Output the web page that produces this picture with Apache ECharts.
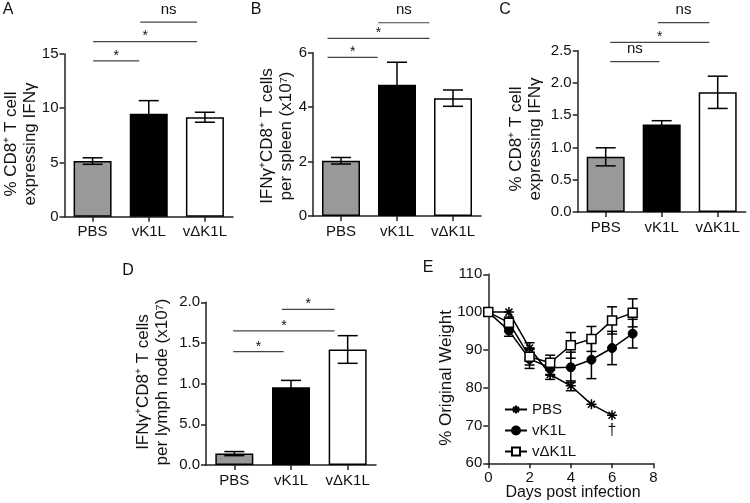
<!DOCTYPE html>
<html><head><meta charset="utf-8">
<script src="https://cdn.jsdelivr.net/npm/echarts@6/dist/echarts.min.js"></script>
<style>html,body{margin:0;padding:0;background:#fff}#c{width:750px;height:503px}</style>
</head><body><div id="c"></div>
<script>
// ---- data ----
const categories = ['PBS', 'vK1L', 'vΔK1L'];
const aMean = [5.13, 9.5, 9.17];
const aErr = [0.3, 1.2, 0.46];
const bMean = [2.03, 4.82, 4.33];
const bErr = [0.12, 0.83, 0.3];
const cMean = [0.855, 1.355, 1.855];
const cErr = [0.14, 0.06, 0.25];
const dMean = [0.14, 0.955, 1.42];
const dErr = [0.025, 0.085, 0.17];
const dTickLabels = ['0.0', '5.0', '1.0', '1.5', '2.0'];
// significance brackets: [start, end (category units from PBS centre), y, label]
const sigA = [[0.01, 0.83, 14.36, '*'], [0.01, 1.86, 16.14, '*'], [0.85, 1.86, 17.93, 'ns']];
const sigB = [[-0.24, 0.655, 5.83, '*'], [-0.24, 1.58, 6.53, '*'], [0.665, 1.58, 7.10, 'ns']];
const sigC = [[0.08, 0.96, 2.33, 'ns'], [0.08, 1.85, 2.63, '*'], [0.93, 1.85, 2.935, 'ns']];
const sigD = [[-0.02, 0.87, 1.393, '*'], [-0.02, 1.77, 1.648, '*'], [0.84, 1.77, 1.914, '*']];
// weight curves
const days = [0, 1, 2, 3, 4, 5, 6, 7];
const pbsW = [100, 100, 90.5, 83.5, 80.5, 75.6, 72.7];
const pbsE = [0, 0, 1.4, 1.3, 1.3, 0, 0];
const vk1lW = [100, 95.1, 87.6, 85.3, 85.4, 87.4, 90.5, 94.3];
const vk1lE = [0, 1.5, 2.5, 2, 4, 5, 4.4, 3.8];
const vdk1lW = [100, 97.2, 88.2, 86.6, 91.2, 92.9, 97.8, 99.8];
const vdk1lE = [0, 1.5, 2.2, 2, 3.4, 3.3, 3.6, 3.7];

// ---- styles ----
const FONT = '"Liberation Sans", Arial, sans-serif';
const TXT = '#111';
const barColors = ['#999999', '#000000', '#ffffff'];
const grids = [
  {left: 64.5, top: 54, width: 168.5, height: 162.7},
  {left: 313, top: 52.7, width: 168, height: 163.3},
  {left: 577.7, top: 50.7, width: 168, height: 161.3},
  {left: 206, top: 302.3, width: 170, height: 162.7},
  {left: 488.3, top: 274.3, width: 165, height: 189}
];
const axisLine = {show: true, lineStyle: {color: '#222', width: 1.5}};
const axisTick = {show: true, length: 5, lineStyle: {color: '#222', width: 1.5}};
const axisLabel = {color: TXT, fontSize: 15, fontFamily: FONT};
function catX(i) {
  return {type: 'category', gridIndex: i, data: categories, axisLine,
    axisTick: Object.assign({alignWithLabel: true, interval: 0}, axisTick),
    axisLabel: Object.assign({margin: 8, interval: 0, hideOverlap: false}, axisLabel), splitLine: {show: false}};
}
function valY(i, max, interval, fmt) {
  return {type: 'value', gridIndex: i, min: 0, max, interval, axisLine, axisTick,
    axisLabel: Object.assign({margin: 6, formatter: fmt, hideOverlap: false}, axisLabel), splitLine: {show: false}};
}
function barSeries(i, mean) {
  return {type: 'bar', xAxisIndex: i, yAxisIndex: i, barWidth: 38, z: 2,
    data: mean.map((v, k) => ({value: v, itemStyle: {color: barColors[k], borderColor: '#000', borderWidth: 1.5}}))};
}
function errRender(capHalf) {
  return function (params, api) {
    const x = api.value(0), lo = api.value(1), hi = api.value(2);
    if (hi - lo <= 0) return null;
    const a = api.coord([x, hi]), b = api.coord([x, lo]);
    const st = {stroke: '#000', lineWidth: 1.5};
    return {type: 'group', children: [
      {type: 'line', shape: {x1: a[0], y1: a[1], x2: b[0], y2: b[1]}, style: st},
      {type: 'line', shape: {x1: a[0] - capHalf, y1: a[1], x2: a[0] + capHalf, y2: a[1]}, style: st},
      {type: 'line', shape: {x1: b[0] - capHalf, y1: b[1], x2: b[0] + capHalf, y2: b[1]}, style: st}
    ]};
  };
}
function errSeries(i, xs, mean, err, capHalf, z) {
  return {type: 'custom', xAxisIndex: i, yAxisIndex: i, z: z, renderItem: errRender(capHalf),
    encode: {x: 0, y: [1, 2]}, data: mean.map((v, k) => [xs[k], v - err[k], v + err[k]])};
}
function sigSeries(i, sig) {
  return {type: 'custom', xAxisIndex: i, yAxisIndex: i, z: 5, clip: false, silent: true,
    encode: {x: 0, y: 1}, data: sig.map(s => [0, s[2], s[0], s[1]]),
    renderItem: function (params, api) {
      const base = api.coord([0, api.value(1)]);
      const band = api.size([1, 0])[0];
      const x0 = base[0] + api.value(2) * band, x1 = base[0] + api.value(3) * band;
      const y = base[1];
      const lab = sig[params.dataIndex][3];
      const isNs = lab === 'ns';
      return {type: 'group', children: [
        {type: 'line', shape: {x1: x0, y1: y, x2: x1, y2: y}, style: {stroke: '#444', lineWidth: 1.2}},
        {type: 'text', style: {text: lab, x: (x0 + x1) / 2, y: isNs ? y - 12.5 : y - 5,
          align: 'center', verticalAlign: 'middle', fill: TXT, fontSize: isNs ? 15 : 14, fontFamily: FONT}}
      ]};
    }};
}
const asterisk = 'path://M5,0L5,10M0,5L10,5M1.5,1.5L8.5,8.5M1.5,8.5L8.5,1.5';
const option = {
  animation: false, backgroundColor: '#fff', grid: grids,
  xAxis: [catX(0), catX(1), catX(2), catX(3),
    {type: 'value', gridIndex: 4, min: 0, max: 8, interval: 2, axisLine, axisTick,
      axisLabel: Object.assign({margin: 7}, axisLabel), splitLine: {show: false}}],
  yAxis: [valY(0, 15, 5), valY(1, 6, 2), valY(2, 2.5, 0.5, v => v.toFixed(1)),
    valY(3, 2, 0.5, v => dTickLabels[Math.round(Number(v) * 2)]),
    {type: 'value', gridIndex: 4, min: 60, max: 110, interval: 10, axisLine, axisTick,
      axisLabel: Object.assign({margin: 6}, axisLabel), splitLine: {show: false}}],
  legend: {left: 499, top: 397, orient: 'vertical', itemWidth: 22, itemHeight: 10, itemGap: 6,
    textStyle: {color: TXT, fontSize: 15, fontFamily: FONT}, data: ['PBS', 'vK1L', 'vΔK1L']},
  series: [
    barSeries(0, aMean), errSeries(0, [0, 1, 2], aMean, aErr, 10, 3), sigSeries(0, sigA),
    barSeries(1, bMean), errSeries(1, [0, 1, 2], bMean, bErr, 10, 3), sigSeries(1, sigB),
    barSeries(2, cMean), errSeries(2, [0, 1, 2], cMean, cErr, 10, 3), sigSeries(2, sigC),
    barSeries(3, dMean), errSeries(3, [0, 1, 2], dMean, dErr, 10, 3), sigSeries(3, sigD),
    errSeries(4, days, pbsW, pbsE, 5, 1), errSeries(4, days, vk1lW, vk1lE, 5, 1), errSeries(4, days, vdk1lW, vdk1lE, 5, 1),
    {type: 'line', name: 'PBS', xAxisIndex: 4, yAxisIndex: 4, z: 3,
      data: pbsW.map((v, k) => k === pbsW.length - 1 ?
        {value: [days[k], v], label: {show: true, position: 'bottom', distance: 2, formatter: '†', color: TXT, fontSize: 16, fontFamily: FONT}} : [days[k], v]),
      symbol: asterisk, symbolSize: 10, showAllSymbol: true,
      itemStyle: {color: '#000', borderColor: '#000', borderWidth: 1.5}, lineStyle: {color: '#000', width: 1.5}},
    {type: 'line', name: 'vK1L', xAxisIndex: 4, yAxisIndex: 4, z: 3, data: vk1lW.map((v, k) => [days[k], v]),
      symbol: 'circle', symbolSize: 9, showAllSymbol: true,
      itemStyle: {color: '#000', borderColor: '#000', borderWidth: 1}, lineStyle: {color: '#000', width: 1.5}},
    {type: 'line', name: 'vΔK1L', xAxisIndex: 4, yAxisIndex: 4, z: 4, data: vdk1lW.map((v, k) => [days[k], v]),
      symbol: 'rect', symbolSize: 9, showAllSymbol: true,
      itemStyle: {color: '#fff', borderColor: '#000', borderWidth: 1.5}, lineStyle: {color: '#000', width: 1.5}}
  ]
};
const titles = [
  ['% CD8⁺ T cell\nexpressing IFNγ', 20.5, 144],
  ['IFNγ⁺CD8⁺ T cells\nper spleen (x10⁷)', 277, 136],
  ['% CD8⁺ T cell\nexpressing IFNγ', 526, 139],
  ['IFNγ⁺CD8⁺ T cells\nper lymph node (x10⁷)', 153, 382],
  ['% Original Weight', 446, 378]
];
const letters = [['A', 8, 10], ['B', 256, 10], ['C', 505, 10], ['D', 128, 271], ['E', 428, 268]];
const chart = echarts.init(document.getElementById('c'), null, {renderer: 'canvas'});
chart.setOption(option);
chart.setOption({graphic: [
  ...titles.map(t => ({type: 'text', x: t[1], y: t[2], rotation: Math.PI / 2, silent: true,
    style: {text: t[0], align: 'center', verticalAlign: 'middle', lineHeight: 19, fill: TXT, fontSize: 17, fontFamily: FONT}})),
  {type: 'text', x: 573, y: 493, silent: true, style: {text: 'Days post infection', align: 'center', verticalAlign: 'middle',
    fill: TXT, fontSize: 16, fontFamily: FONT}},
  ...letters.map(t => ({type: 'text', x: t[1], y: t[2], silent: true,
    style: {text: t[0], align: 'center', verticalAlign: 'middle', fill: TXT, fontSize: 16, fontFamily: FONT}}))
]});
// make sure every tick label of panel D stays visible
const zr = chart.getZr();
zr.storage.getDisplayList(true, true).forEach(el => {
  if (el.style && dTickLabels.indexOf(el.style.text) >= 0) {
    el.ignore = false; el.invisible = false;
    if (el.markRedraw) el.markRedraw();
  }
});
zr.refreshImmediately();
</script></body></html>
